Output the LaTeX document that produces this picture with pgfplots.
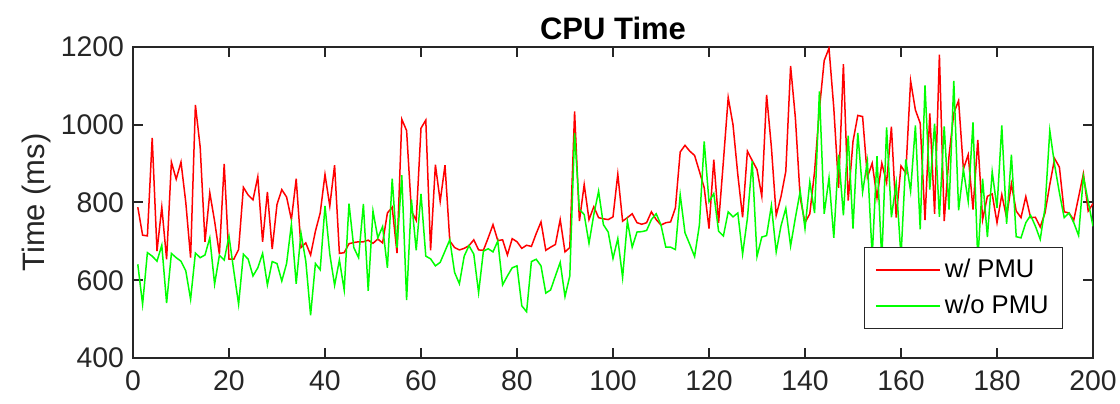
\documentclass[border=0pt]{standalone}
\usepackage{pgfplots}
\pgfplotsset{compat=1.18}
\usepackage{pgfplotstable}
\usepackage{fontspec}
\setmainfont{Liberation Sans}
\definecolor{axgray}{rgb}{0.15,0.15,0.15}
\definecolor{pured}{rgb}{1,0,0}
\definecolor{puregreen}{rgb}{0,1,0}
\pgfplotstableread{
x y
1 788
2 716
3 714
4 966
5 675
6 788
7 654
8 904
9 860
10 904
11 800
12 658
13 1051
14 942
15 699
16 825
17 752
18 667
19 899
20 654
21 654
22 679
23 839
24 819
25 807
26 866
27 699
28 827
29 680
30 795
31 833
32 814
33 756
34 861
35 684
36 696
37 665
38 726
39 773
40 872
41 791
42 896
43 669
44 671
45 694
46 697
47 699
48 699
49 703
50 695
51 706
52 696
53 773
54 788
55 670
56 1014
57 985
58 778
59 754
60 991
61 1012
62 677
63 897
64 803
65 896
66 701
67 684
68 678
69 682
70 689
71 704
72 678
73 677
74 709
75 743
76 702
77 704
78 665
79 707
80 699
81 682
82 690
83 687
84 720
85 750
86 677
87 685
88 692
89 756
90 673
91 684
92 1034
93 752
94 846
95 756
96 789
97 761
98 758
99 756
100 763
101 873
102 752
103 761
104 771
105 748
106 744
107 748
108 776
109 756
110 742
111 748
112 750
113 786
114 930
115 947
116 932
117 921
118 880
119 838
120 733
121 910
122 748
123 906
124 1070
125 1000
126 872
127 762
128 932
129 908
130 885
131 816
132 1077
133 942
134 767
135 815
136 880
137 1151
138 1017
139 812
140 748
141 771
142 880
143 1040
144 1165
145 1197
146 1043
147 838
148 1156
149 805
150 957
151 1024
152 1021
153 865
154 901
155 812
156 901
157 851
158 995
159 761
160 894
161 876
162 1113
163 1038
164 1004
165 755
166 1029
167 771
168 1180
169 752
170 919
171 1030
172 1062
173 886
174 923
175 782
176 961
177 756
178 816
179 822
180 748
181 820
182 761
183 848
184 778
185 761
186 815
187 761
188 762
189 737
190 773
191 846
192 913
193 891
194 776
195 773
196 755
197 814
198 874
199 778
200 797
}\withpmu
\pgfplotstableread{
x y
1 641
2 538
3 671
4 662
5 649
6 690
7 541
8 669
9 658
10 649
11 624
12 551
13 670
14 658
15 665
16 709
17 590
18 664
19 652
20 713
21 624
22 538
23 667
24 654
25 611
26 632
27 669
28 588
29 648
30 643
31 598
32 643
33 744
34 591
35 721
36 649
37 510
38 643
39 627
40 791
41 667
42 587
43 652
44 575
45 797
46 684
47 658
48 796
49 573
50 778
51 709
52 738
53 632
54 861
55 684
56 870
57 549
58 808
59 677
60 822
61 662
62 655
63 637
64 646
65 675
66 704
67 620
68 591
69 662
70 689
71 667
72 568
73 675
74 681
75 673
76 701
77 588
78 611
79 632
80 637
81 534
82 519
83 648
84 654
85 637
86 567
87 575
88 611
89 646
90 558
91 611
92 979
93 782
94 769
95 695
96 769
97 829
98 743
99 724
100 656
101 707
102 607
103 752
104 685
105 724
106 725
107 728
108 756
109 771
110 742
111 685
112 685
113 679
114 820
115 722
116 692
117 661
118 742
119 957
120 802
121 823
122 726
123 714
124 776
125 763
126 773
127 667
128 759
129 906
130 661
131 711
132 715
133 792
134 673
135 740
136 785
137 688
138 761
139 829
140 733
141 853
142 773
143 1086
144 771
145 863
146 709
147 923
148 767
149 972
150 733
151 979
152 827
153 906
154 660
155 919
156 650
157 993
158 762
159 850
160 660
161 911
162 829
163 998
164 731
165 1101
166 833
167 1003
168 763
169 996
170 782
171 1113
172 780
173 885
174 803
175 1006
176 650
177 861
178 711
179 879
180 786
181 998
182 745
183 923
184 712
185 709
186 748
187 767
188 739
189 705
190 786
191 985
192 897
193 825
194 761
195 773
196 748
197 715
198 867
199 802
200 739
}\withoutpmu
\begin{document}
\begin{tikzpicture}
\begin{axis}[
  scale only axis,
  width=480pt, height=155.5pt,
  xmin=0, xmax=200, ymin=400, ymax=1200,
  xtick={0,20,...,200}, ytick={400,600,...,1200},
  tick align=inside, tick pos=both,
  major tick length=5pt,
  axis line style={axgray, line width=1pt},
  every tick/.style={axgray, line width=1pt},
  /pgf/number format/assume math mode=true,
  /pgf/number format/1000 sep={},
  tick label style={font=\fontsize{14.2}{16}\selectfont, text=axgray},
  xticklabel style={yshift=-3pt},
  yticklabel style={xshift=-1pt},
  title={\textbf{CPU Time}},
  title style={font=\fontsize{15.5}{17}\selectfont, yshift=-6pt},
  ylabel={Time (ms)},
  ylabel style={font=\fontsize{15.5}{17}\selectfont, text=axgray, yshift=-2pt},
  legend style={at={(0.969,0.093)}, anchor=south east, font=\fontsize{12.8}{14}\selectfont,
    draw=axgray, line width=0.6pt, fill=white, inner xsep=5pt, inner ysep=4pt, row sep=3pt},
  legend cell align=left,
  legend image code/.code={\draw[#1, line width=1pt] (0pt,0pt) -- (32pt,0pt);},
]
\addplot[pured, line width=0.75pt] table[x=x,y=y] {\withpmu};
\addlegendentry{w/ PMU}
\addplot[puregreen, line width=0.75pt] table[x=x,y=y] {\withoutpmu};
\addlegendentry{w/o PMU}
\end{axis}
\pgfresetboundingbox
\path ([shift={(-66.5pt,-23pt)}]current axis.south west) rectangle ([shift={(13.5pt,23.5pt)}]current axis.north east);
\end{tikzpicture}
\end{document}
